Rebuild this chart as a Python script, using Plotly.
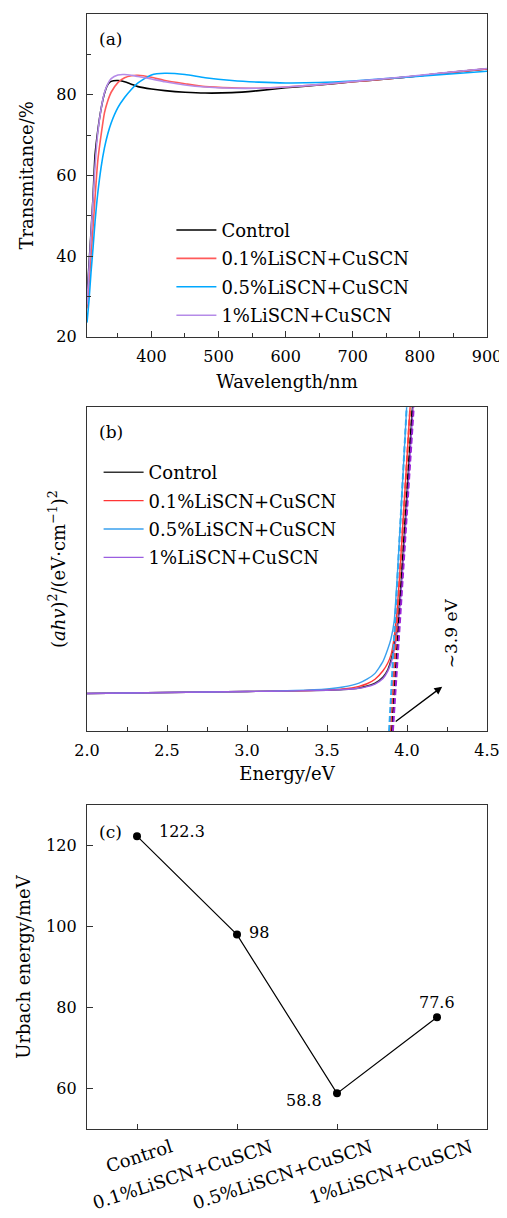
import plotly.graph_objects as go

FONT = "DejaVu Serif"

# ---------------- Panel (a): transmittance ----------------
wavelength = [304, 307, 310, 313, 316, 320, 325, 330, 335, 340, 350, 360, 370, 380,
              400, 420, 450, 480, 520, 560, 600, 650, 700, 750, 800, 850, 900]
t_control = [30.0, 38.0, 46.0, 54.7, 65.0, 71.0, 76.5, 80.3, 82.5, 83.3, 83.5, 83.2, 82.6, 82.0,
             81.4, 81.0, 80.6, 80.4, 80.5, 81.0, 81.7, 82.4, 83.2, 83.9, 84.7, 85.6, 86.4]
t_01 = [27.0, 33.0, 40.0, 47.0, 54.5, 63.5, 70.0, 75.5, 78.5, 80.6, 83.0, 84.2, 84.7, 84.8,
        84.3, 83.5, 82.7, 82.0, 81.7, 81.6, 81.9, 82.5, 83.2, 83.9, 84.7, 85.6, 86.4]
t_05 = [23.5, 29.0, 36.0, 42.0, 48.5, 55.5, 62.0, 66.8, 70.3, 73.0, 76.8, 79.3, 81.3, 82.9,
        84.9, 85.3, 85.0, 84.2, 83.5, 83.1, 82.9, 83.0, 83.4, 84.0, 84.6, 85.2, 85.8]
t_1 = [28.0, 37.0, 45.5, 54.0, 62.5, 70.5, 76.5, 80.5, 82.7, 84.0, 84.9, 85.0, 84.8, 84.5,
       83.9, 83.2, 82.4, 81.9, 81.6, 81.6, 81.9, 82.5, 83.3, 84.0, 84.8, 85.7, 86.5]

series_names = ["Control", "0.1%LiSCN+CuSCN", "0.5%LiSCN+CuSCN", "1%LiSCN+CuSCN"]
trans_series = [t_control, t_01, t_05, t_1]
colors_a = ["#000000", "#ff5a5a", "#00a8ff", "#b58be8"]

# ---------------- Panel (b): Tauc plot ----------------
energy = [2.0, 2.5, 3.0, 3.3, 3.5, 3.6, 3.7, 3.75, 3.8, 3.85, 3.88, 3.9, 3.92, 3.94,
          3.96, 3.98, 4.0, 4.02, 4.04, 4.06]
tauc_control = [11.6, 11.9, 12.2, 12.4, 12.6, 12.8, 13.3, 13.9, 14.8, 16.7, 19.0, 22.0, 26.5, 33.0,
                44.0, 58.5, 74.0, 89.5, 105.0, 120.0]
tauc_01 = [11.6, 11.9, 12.2, 12.4, 12.7, 13.0, 13.8, 14.6, 16.0, 18.6, 21.0, 23.5, 29.0, 38.5,
           52.5, 68.5, 84.5, 100.5, 116.0, 132.0]
tauc_05 = [11.6, 11.9, 12.2, 12.5, 13.0, 13.6, 14.8, 16.0, 17.8, 21.5, 25.3, 28.5, 34.0, 48.5,
           65.7, 83.7, 102.0, 120.0, 138.0, 156.0]
tauc_1 = [11.6, 11.9, 12.2, 12.4, 12.6, 12.8, 13.2, 13.7, 14.5, 16.2, 18.5, 21.0, 25.0, 31.0,
          41.0, 55.0, 70.5, 86.0, 101.5, 117.0]
tauc_series = [tauc_control, tauc_01, tauc_05, tauc_1]
# linear-fit (tangent) intercepts: energy at y = 0 and at y = 100
tangent_e0 = [3.905, 3.895, 3.888, 3.912]
tangent_e100 = [4.035, 4.020, 3.998, 4.042]
colors_b = ["#333333", "#ff3535", "#3aa0ee", "#9a5ee0"]
colors_b_dash = ["#000000", "#ff4040", "#30a8f0", "#9a22d8"]

# ---------------- Panel (c): Urbach energy ----------------
urbach_categories = ["Control", "0.1%LiSCN+CuSCN", "0.5%LiSCN+CuSCN", "1%LiSCN+CuSCN"]
urbach_values = [122.3, 98, 58.8, 77.6]
urbach_labels = ["122.3", "98", "58.8", "77.6"]
label_anchor = ["left", "left", "right", "center"]
label_dx = [20, 10, -13, 0]
label_dy = [5, 2, -7, 15]

# ---------------- layout helpers (page pixel -> paper) ----------------
PAGE_OFF = 8                      # default body margin of the html page
W, H = 507 - PAGE_OFF, 1218 - PAGE_OFF
ML, MR, MT, MB = 79, 20, 6, 89
PW, PH = W - ML - MR, H - MT - MB

def fx(px):
    return (px - PAGE_OFF - ML) / PW

def fy(py):
    return (H - MB - (py - PAGE_OFF)) / PH

fig = go.Figure()

for name, ys, c in zip(series_names, trans_series, colors_a):
    fig.add_trace(go.Scatter(x=wavelength, y=ys, mode="lines", name=name,
                             line=dict(color=c, width=1.6, shape="spline", smoothing=0.6),
                             xaxis="x", yaxis="y", legend="legend", legendgroup="a" + name))

for name, ys, c in zip(series_names, tauc_series, colors_b):
    fig.add_trace(go.Scatter(x=energy, y=ys, mode="lines", name=name,
                             line=dict(color=c, width=1.4, shape="spline", smoothing=0.5),
                             xaxis="x2", yaxis="y2", legend="legend2", legendgroup="b" + name))

for e0, e1, c in zip(tangent_e0, tangent_e100, colors_b_dash):
    fig.add_trace(go.Scatter(x=[e0, e1], y=[0, 100], mode="lines", showlegend=False,
                             line=dict(color=c, width=2.0, dash="6px,3px"),
                             xaxis="x2", yaxis="y2"))

fig.add_trace(go.Scatter(x=urbach_categories, y=urbach_values, mode="lines+markers",
                         showlegend=False, line=dict(color="#000000", width=1.2),
                         marker=dict(color="#000000", size=8),
                         xaxis="x3", yaxis="y3"))

# category label positions, offset to the right of each category tick (matplotlib-like)
cat_pos = list(range(len(urbach_categories)))
cat_label_pos = [p + 0.34 for p in cat_pos]
# invisible trace so the overlaid label axis is drawn
fig.add_trace(go.Scatter(x=cat_pos, y=urbach_values, mode="markers", showlegend=False,
                         marker=dict(opacity=0), hoverinfo="skip",
                         xaxis="x4", yaxis="y3"))

for cat, v, lab, anc, dx, dy in zip(urbach_categories, urbach_values, urbach_labels,
                                    label_anchor, label_dx, label_dy):
    fig.add_annotation(x=cat, y=v, xref="x3", yref="y3", text=lab, showarrow=False,
                       xanchor=anc, yanchor="middle", xshift=dx, yshift=dy,
                       font=dict(family=FONT, size=16, color="#000000"))

axis_common = dict(showline=True, linecolor="#333333", linewidth=1.3, mirror=True,
                   ticks="inside", ticklen=6, tickwidth=1.2, tickcolor="#333333",
                   showgrid=False, zeroline=False, automargin=False,
                   tickfont=dict(family=FONT, size=16, color="#000000"),
                   title_font=dict(family=FONT, size=18, color="#000000"))

xd = [0, 1]

fig.update_layout(
    template="none",
    width=W, height=H,
    margin=dict(l=ML, r=MR, t=MT, b=MB),
    paper_bgcolor="white", plot_bgcolor="white",
    font=dict(family=FONT, color="#000000"),
    xaxis=dict(axis_common, domain=xd, anchor="y", range=[304, 900], dtick=100, tick0=0,
               minor=dict(dtick=50, ticks="inside", ticklen=4, tickcolor="#333333"),
               title=dict(text="Wavelength/nm", standoff=10), ticklabelstandoff=5),
    yaxis=dict(axis_common, domain=[fy(336.7), fy(14)], anchor="x", range=[20, 100], dtick=20,
               minor=dict(dtick=10, ticks="inside", ticklen=4, tickcolor="#333333"),
               title=dict(text="Transmitance/%", standoff=17), ticklabelstandoff=6),
    xaxis2=dict(axis_common, domain=xd, anchor="y2", range=[2.0, 4.5], dtick=0.5, tick0=0,
                tickformat=".1f",
                minor=dict(dtick=0.25, ticks="inside", ticklen=4, tickcolor="#333333"),
                title=dict(text="Energy/eV", standoff=8), ticklabelstandoff=5),
    yaxis2=dict(axis_common, domain=[fy(731), fy(407.3)], anchor="x2", range=[0, 100],
                ticks="", showticklabels=False,
                title=dict(text="(<i>ahv</i>)<sup>2</sup>/(eV·cm<sup>−1</sup>)<sup>2</sup>",
                           standoff=15)),
    xaxis3=dict(axis_common, domain=xd, anchor="y3", range=[-0.5, 3.5], type="category",
                ticklen=5, showticklabels=False),
    xaxis4=dict(domain=xd, anchor="y3", overlaying="x3", side="bottom", range=[-0.5, 3.5],
                type="linear", tickmode="array",
                tickvals=cat_label_pos, ticktext=urbach_categories, tickangle=-18,
                ticks="", showline=False, showgrid=False, zeroline=False, automargin=False,
                tickfont=dict(family=FONT, size=18, color="#000000"), ticklabelstandoff=4),
    yaxis3=dict(axis_common, domain=[0, fy(805)], anchor="x3", range=[50, 130],
                tickvals=[60, 80, 100, 120],
                title=dict(text="Urbach energy/meV", standoff=10), ticklabelstandoff=6),
    legend=dict(x=fx(171.4), y=fy(211.8), xanchor="left", yanchor="top",
                bgcolor="rgba(0,0,0,0)", borderwidth=0, traceorder="grouped",
                tracegroupgap=2, itemwidth=40,
                font=dict(family=FONT, size=18, color="#000000")),
    legend2=dict(x=fx(98.6), y=fy(454), xanchor="left", yanchor="top",
                 bgcolor="rgba(0,0,0,0)", borderwidth=0, traceorder="grouped",
                 tracegroupgap=2, itemwidth=40,
                 font=dict(family=FONT, size=18, color="#000000")),
    showlegend=True,
)

# panel letters
for letter, yc in [("(a)", 39), ("(b)", 432), ("(c)", 831.7)]:
    fig.add_annotation(x=fx(97), y=fy(yc), xref="paper", yref="paper", text=letter,
                       showarrow=False, xanchor="left", yanchor="middle",
                       font=dict(family=FONT, size=17, color="#000000"))

# band-gap arrow and label
fig.add_annotation(x=4.22, y=13.7, ax=3.92, ay=2.6, xref="x2", yref="y2", axref="x2", ayref="y2",
                   showarrow=True, arrowhead=2, arrowsize=1.2, arrowwidth=1.3, arrowcolor="#000000",
                   text="")
fig.add_annotation(x=4.277, y=30.3, xref="x2", yref="y2", text="~3.9 eV", textangle=-90,
                   showarrow=False, font=dict(family=FONT, size=17, color="#000000"))

fig.write_html("out.html")
